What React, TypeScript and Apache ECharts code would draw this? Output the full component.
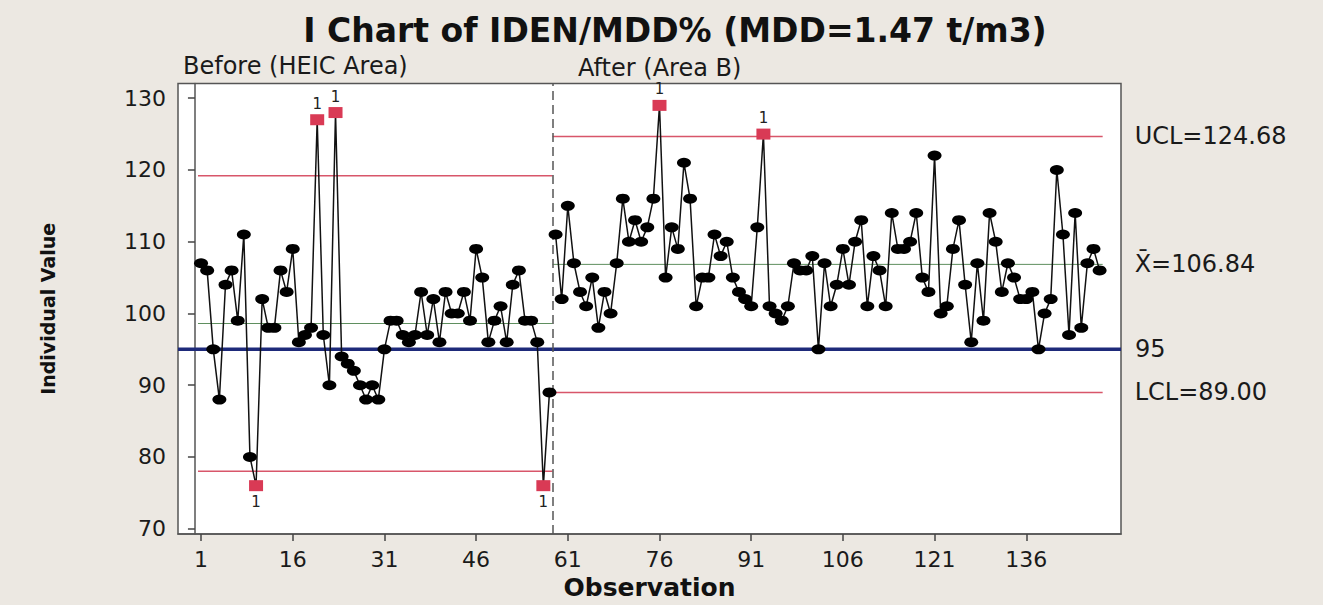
import React, { useEffect, useRef } from "react";
import * as echarts from "echarts";

// Stage 1: Before (HEIC Area), observations 1..58
const beforeValues = [
  107, 106, 95, 88, 104, 106, 99, 111, 80, 76,
  102, 98, 98, 106, 103, 109, 96, 97, 98, 127,
  97, 90, 128, 94, 93, 92, 90, 88, 90, 88,
  95, 99, 99, 97, 96, 97, 103, 97, 102, 96,
  103, 100, 100, 103, 99, 109, 105, 96, 99, 101,
  96, 104, 106, 99, 99, 96, 76, 89,
];
// Stage 2: After (Area B), observations 59..148
const afterValues = [
  111, 102, 115, 107, 103, 101, 105, 98, 103, 100,
  107, 116, 110, 113, 110, 112, 116, 129, 105, 112,
  109, 121, 116, 101, 105, 105, 111, 108, 110, 105,
  103, 102, 101, 112, 125, 101, 100, 99, 101, 107,
  106, 106, 108, 95, 107, 101, 104, 109, 104, 110,
  113, 101, 108, 106, 101, 114, 109, 109, 110, 114,
  105, 103, 122, 100, 101, 109, 113, 104, 96, 107,
  99, 114, 110, 103, 107, 105, 102, 102, 103, 95,
  100, 102, 120, 111, 97, 114, 98, 107, 109, 106,
];

const beforeUCL = 119.2;
const beforeCenter = 98.6;
const beforeLCL = 78.0;
const afterUCL = 124.68;
const afterCenter = 106.84;
const afterLCL = 89.0;
const targetValue = 95;

const xTicks = [1, 16, 31, 46, 61, 76, 91, 106, 121, 136];
const yTicks = [70, 80, 90, 100, 110, 120, 130];

const FONT = "DejaVu Sans";

function pointData(values: number[], start: number, ucl: number, lcl: number) {
  return values.map((v, i) => {
    const item: any = { value: [start + i, v] };
    if (v > ucl || v < lcl) {
      item.symbol = "rect";
      item.symbolSize = [14, 11];
      item.itemStyle = { color: "#d93a55" };
      item.label = {
        show: true,
        formatter: "1",
        position: v > ucl ? "top" : "bottom",
        distance: 3,
        fontSize: 15,
        fontFamily: FONT,
        color: "#222",
      };
    }
    return item;
  });
}

function hLine(y: number, x0: number, x1: number, color: string, width: number, label?: string, distance = 32) {
  const s: any = {
    type: "line",
    data: [
      [x0, y],
      [x1, y],
    ],
    symbol: "none",
    silent: true,
    z: 1,
    lineStyle: { color, width },
    emphasis: { disabled: true },
  };
  if (label) {
    s.endLabel = {
      show: true,
      formatter: label,
      distance,
      fontSize: 24,
      fontFamily: FONT,
      color: "#1a1a1a",
    };
  }
  return s;
}

export default function App() {
  const ref = useRef<HTMLDivElement>(null);

  useEffect(() => {
    if (!ref.current) return;
    const chart = echarts.init(ref.current, undefined, { renderer: "svg" });

    const n1 = beforeValues.length;
    const n2 = afterValues.length;
    const afterStart = n1 + 1;
    const lastObs = n1 + n2;
    const stageBreak = n1 + 0.5;
    const xMin = -2.77;
    const xMax = 151.5;

    const pointSeries = (values: number[], start: number, ucl: number, lcl: number, extra: any = {}) => ({
      type: "line",
      data: pointData(values, start, ucl, lcl),
      symbol: "circle",
      symbolSize: [14, 10],
      showSymbol: true,
      showAllSymbol: true,
      itemStyle: { color: "#000" },
      lineStyle: { color: "#111", width: 1.5 },
      emphasis: { disabled: true },
      z: 5,
      ...extra,
    });

    chart.setOption({
      animation: false,
      backgroundColor: "#ece8e2",
      title: {
        text: "I Chart of IDEN/MDD% (MDD=1.47 t/m3)",
        left: 670,
        textAlign: "center",
        top: 9,
        textStyle: { fontSize: 33, fontWeight: "bold", fontFamily: FONT, color: "#111" },
      },
      grid: {
        left: 178,
        right: 202,
        top: 83.5,
        bottom: 70,
        show: true,
        backgroundColor: "#ffffff",
        borderColor: "#555",
        borderWidth: 1.5,
      },
      xAxis: {
        type: "value",
        min: xMin,
        max: xMax,
        name: "Observation",
        nameLocation: "middle",
        nameGap: 38,
        nameTextStyle: { fontSize: 25, fontWeight: "bold", fontFamily: FONT, color: "#111" },
        axisLine: { show: true, lineStyle: { color: "#555", width: 1.5 } },
        axisTick: { show: true, customValues: xTicks, length: 7, lineStyle: { color: "#444", width: 1.5 } },
        axisLabel: { customValues: xTicks, fontSize: 22, fontFamily: FONT, color: "#1a1a1a", margin: 14 },
        splitLine: { show: false },
      },
      yAxis: {
        type: "value",
        min: 69.25,
        max: 132.05,
        name: "Individual Value",
        nameLocation: "middle",
        nameRotate: 90,
        nameGap: 121,
        nameTextStyle: { fontSize: 19, fontWeight: "bold", fontFamily: FONT, color: "#111" },
        axisLine: { show: true, lineStyle: { color: "#555", width: 1.5 } },
        axisTick: { show: true, customValues: yTicks, length: 7, lineStyle: { color: "#444", width: 1.5 } },
        axisLabel: { customValues: yTicks, fontSize: 22, fontFamily: FONT, color: "#1a1a1a", margin: 12 },
        splitLine: { show: false },
      },
      graphic: [
        {
          type: "text",
          x: 183,
          y: 54,
          style: { text: "Before (HEIC Area)", font: `24px "${FONT}"`, fill: "#1a1a1a" },
        },
        {
          type: "text",
          x: 578,
          y: 56,
          style: { text: "After (Area B)", font: `24px "${FONT}"`, fill: "#1a1a1a" },
        },
      ],
      series: [
        hLine(targetValue, xMin, xMax, "#1e2a7a", 3.5, String(targetValue), 14),
        hLine(beforeUCL, 0.5, stageBreak, "#d8566a", 1.5),
        hLine(beforeCenter, 0.5, stageBreak, "#5f8f5f", 1),
        hLine(beforeLCL, 0.5, stageBreak, "#d8566a", 1.5),
        hLine(afterUCL, stageBreak, lastObs + 0.5, "#d8566a", 1.5, `UCL=${afterUCL.toFixed(2)}`),
        hLine(afterCenter, stageBreak, lastObs + 0.5, "#5f8f5f", 1, `X\u0304=${afterCenter.toFixed(2)}`),
        hLine(afterLCL, stageBreak, lastObs + 0.5, "#d8566a", 1.5, `LCL=${afterLCL.toFixed(2)}`),
        pointSeries(beforeValues, 1, beforeUCL, beforeLCL, {
          markLine: {
            silent: true,
            symbol: "none",
            label: { show: false },
            lineStyle: { color: "#555", width: 1.5, type: [9, 5] },
            data: [{ xAxis: stageBreak }],
          },
        }),
        pointSeries(afterValues, afterStart, afterUCL, afterLCL),
      ],
    });

    return () => chart.dispose();
  }, []);

  return (
    <div
      ref={ref}
      style={{ position: "fixed", left: 0, top: 0, width: 1323, height: 605 }}
    />
  );
}
